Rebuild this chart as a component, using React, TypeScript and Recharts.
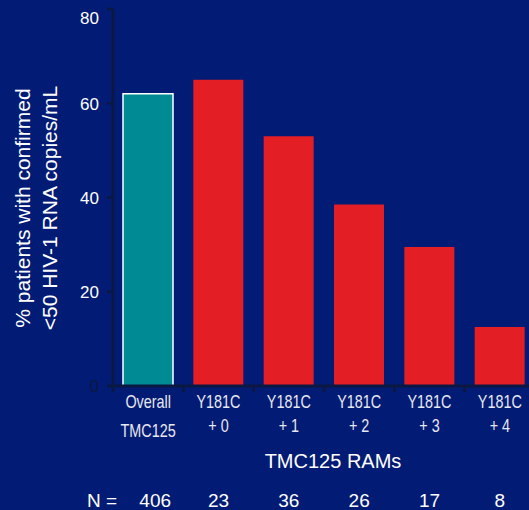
import React from 'react';
import { BarChart, Bar, XAxis, YAxis, Cell } from 'recharts';

// Category labels (two lines each), response rates and patient counts
const tickTop = ['Overall', 'Y181C', 'Y181C', 'Y181C', 'Y181C', 'Y181C'];
const tickBottom = ['TMC125', '+ 0', '+ 1', '+ 2', '+ 3', '+ 4'];
const responseRates = [62, 65, 53, 38.5, 29.5, 12.5];
const patientCounts = [406, 23, 36, 26, 17, 8];
const yTicks = [0, 20, 40, 60, 80];

const data = tickTop.map((t, i) => ({
  name: `${t} ${tickBottom[i]}`,
  value: responseRates[i],
}));

const BG = '#021b74';
const AXIS = '#0b1842';
const RED = '#e31e25';
const TEAL = '#008b94';
const SANS = '"Liberation Sans", Arial, sans-serif';

const W = 545;
const H = 510;
const M = { top: 9, right: 10, left: 0, bottom: 0 };
const YW = 113;
const XH = 124;
const PLOT_LEFT = M.left + YW;
const PLOT_RIGHT = W - M.right;
const PLOT_BOTTOM = H - M.bottom - XH;
const BAND = (PLOT_RIGHT - PLOT_LEFT) / data.length;

// Condensed category text: regular sans squeezed horizontally
const NarrowText = ({ x, y, children }: { x: number; y: number; children: React.ReactNode }) => (
  <text
    transform={`translate(${x}, ${y}) scale(0.8, 1)`}
    textAnchor="middle"
    fill="#e8e8f0"
    fontSize={18}
    fontFamily={SANS}
  >
    {children}
  </text>
);

const XTick = (props: any) => {
  const { x, index } = props;
  const left = x - BAND / 2;
  const right = x + BAND / 2;
  return (
    <g>
      <line x1={left} x2={left} y1={PLOT_BOTTOM} y2={PLOT_BOTTOM + 6} stroke={AXIS} strokeWidth={2.5} />
      {index === data.length - 1 && (
        <line x1={right} x2={right} y1={PLOT_BOTTOM} y2={PLOT_BOTTOM + 6} stroke={AXIS} strokeWidth={2.5} />
      )}
      <NarrowText x={x} y={PLOT_BOTTOM + 22}>
        {tickTop[index]}
      </NarrowText>
      <NarrowText x={x} y={PLOT_BOTTOM + (index === 0 ? 51 : 46)}>
        {tickBottom[index]}
      </NarrowText>
      <text
        x={x + (index === 0 ? 7 : 0)}
        y={PLOT_BOTTOM + 121}
        textAnchor="middle"
        fill="#ffffff"
        fontSize={19}
        fontFamily={SANS}
      >
        {patientCounts[index]}
      </text>
    </g>
  );
};

const YTick = (props: any) => {
  const { x, y, payload } = props;
  const v = payload.value;
  return (
    <text
      x={x}
      y={y + (v === 80 ? 9 : 0)}
      dy="0.38em"
      textAnchor="end"
      fill={v === 0 ? AXIS : '#ffffff'}
      fontSize={17}
      fontFamily={SANS}
    >
      {v}
    </text>
  );
};

const YTitle = () => (
  <g fill="#ffffff" fontSize={21} fontFamily={SANS}>
    <text transform="translate(30, 208) rotate(-90)" textAnchor="middle">
      % patients with confirmed
    </text>
    <text transform="translate(57, 208) rotate(-90)" textAnchor="middle">
      {'<50 HIV-1 RNA copies/mL'}
    </text>
  </g>
);

const XTitle = () => (
  <g fill="#ffffff" fontFamily={SANS}>
    <text x={333} y={PLOT_BOTTOM + 82} textAnchor="middle" fontSize={20}>
      TMC125 RAMs
    </text>
    <text x={87} y={PLOT_BOTTOM + 121} textAnchor="start" fontSize={19}>
      N =
    </text>
  </g>
);

export default function App() {
  return (
    <div
      style={{
        position: 'absolute',
        left: 0,
        top: 0,
        width: 529,
        height: 510,
        overflow: 'hidden',
        background: BG,
      }}
    >
      <BarChart width={W} height={H} data={data} margin={M} barCategoryGap={0}>
        <XAxis
          dataKey="name"
          height={XH}
          interval={0}
          tickLine={false}
          axisLine={{ stroke: AXIS, strokeWidth: 3 }}
          tick={<XTick />}
          label={<XTitle />}
        />
        <YAxis
          width={YW}
          domain={[0, 80]}
          ticks={yTicks}
          tickSize={6}
          tickMargin={8}
          tickLine={{ stroke: AXIS, strokeWidth: 2.5 }}
          axisLine={{ stroke: AXIS, strokeWidth: 3 }}
          tick={<YTick />}
          label={<YTitle />}
        />
        <Bar dataKey="value" barSize={50} isAnimationActive={false}>
          {data.map((d, i) => (
            <Cell
              key={d.name}
              fill={i === 0 ? TEAL : RED}
              stroke={i === 0 ? '#ffffff' : 'none'}
              strokeWidth={i === 0 ? 1.5 : 0}
            />
          ))}
        </Bar>
      </BarChart>
    </div>
  );
}
